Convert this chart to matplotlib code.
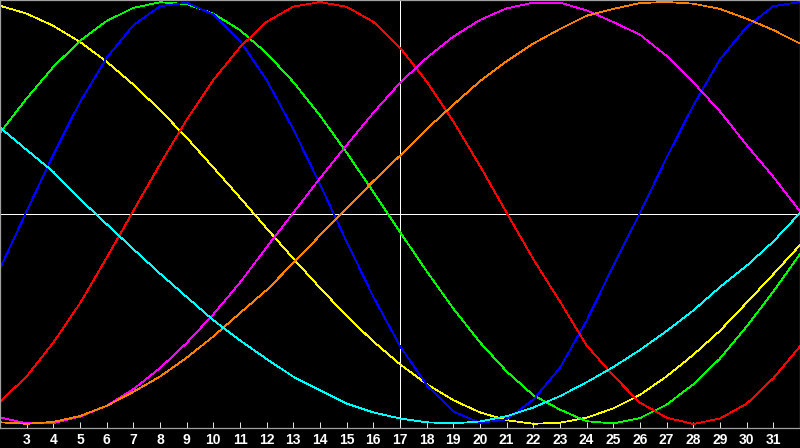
import matplotlib
matplotlib.use('Agg')
import matplotlib.pyplot as plt
import numpy as np

# x positions of the samples (one per unit)
x = list(range(2, 33))

yellow = [0.982, 0.945, 0.887, 0.811, 0.717, 0.609, 0.488, 0.357, 0.216, 0.073,
          -0.073, -0.216, -0.355, -0.488, -0.609, -0.717, -0.811, -0.887, -0.945, -0.982,
          -0.999, -0.994, -0.970, -0.926, -0.862, -0.774, -0.672, -0.558, -0.425, -0.290, -0.152]
green = [0.380, 0.543, 0.692, 0.816, 0.910, 0.972, 0.999, 0.990, 0.945, 0.867,
         0.757, 0.621, 0.462, 0.286, 0.100, -0.090, -0.276, -0.453, -0.613, -0.751,
         -0.864, -0.932, -0.987, -0.997, -0.972, -0.908, -0.812, -0.690, -0.538, -0.372, -0.195]
blue = [-0.263, 0.008, 0.277, 0.526, 0.735, 0.890, 0.980, 0.997, 0.941, 0.816,
        0.630, 0.397, 0.136, -0.136, -0.397, -0.630, -0.816, -0.941, -0.995, -0.978,
        -0.885, -0.733, -0.510, -0.250, 0.000, 0.263, 0.510, 0.728, 0.882, 0.980, 1.000]
red = [-0.895, -0.774, -0.614, -0.428, -0.212, 0.010, 0.231, 0.442, 0.630, 0.786,
       0.906, 0.978, 1.000, 0.977, 0.906, 0.784, 0.623, 0.434, 0.223, 0.001,
       -0.219, -0.420, -0.628, -0.771, -0.899, -0.970, -1.000, -0.974, -0.904, -0.783, -0.632]
magenta = [-0.969, -0.997, -0.996, -0.965, -0.914, -0.835, -0.735, -0.616, -0.480, -0.330,
           -0.162, 0.001, 0.165, 0.322, 0.475, 0.617, 0.735, 0.836, 0.915, 0.970,
           0.997, 0.997, 0.960, 0.905, 0.845, 0.744, 0.619, 0.481, 0.322, 0.171, 0.008]
orange = [-0.992, -0.999, -0.990, -0.962, -0.914, -0.848, -0.775, -0.686, -0.585, -0.474,
          -0.365, -0.237, -0.106, 0.023, 0.151, 0.272, 0.398, 0.513, 0.625, 0.720,
          0.803, 0.872, 0.935, 0.967, 0.995, 1.000, 0.992, 0.967, 0.921, 0.867, 0.803]
cyan = [0.405, 0.299, 0.195, 0.066, -0.053, -0.171, -0.287, -0.398, -0.508, -0.604,
        -0.692, -0.776, -0.840, -0.903, -0.945, -0.974, -0.992, -0.997, -0.988, -0.963,
        -0.922, -0.868, -0.802, -0.730, -0.649, -0.559, -0.462, -0.351, -0.250, -0.135, 0.000]

series = [yellow, green, blue, red, magenta, orange, cyan]
colors = ['#ffff00', '#00ff00', '#0000ff', '#ff0000', '#ff00ff', '#ff8000', '#00ffff']

tick_pos = list(range(3, 32))
tick_labels = [str(t) for t in tick_pos]

fig = plt.figure(figsize=(8, 4.48), dpi=100, facecolor='black')
ax = fig.add_axes([0, 20/448, 1, 428/448], facecolor='black')

# crosshair
ax.axvline(17, color='white', lw=0.72, antialiased=False, zorder=1)
ax.axhline(-0.005, color='white', lw=0.72, antialiased=False, zorder=1)

for s, c in zip(series, colors):
    ax.plot(x, s, color=c, lw=0.55, antialiased=False, zorder=2)

ax.set_xlim(2, 32)
ax.set_ylim(-215/211, 213/211)
ax.set_xticks(tick_pos)
ax.set_xticklabels(tick_labels, color='white', fontweight='bold', fontsize=10,
                   family='Liberation Sans')
ax.set_yticks([])
ax.tick_params(axis='x', direction='in', length=4, width=0.72, color='#e0e0e0', pad=3.5)
for sp in ax.spines.values():
    sp.set_color('#a0a0a0')
    sp.set_linewidth(0.9)

fig.savefig('out.png', dpi=100, facecolor='black')
